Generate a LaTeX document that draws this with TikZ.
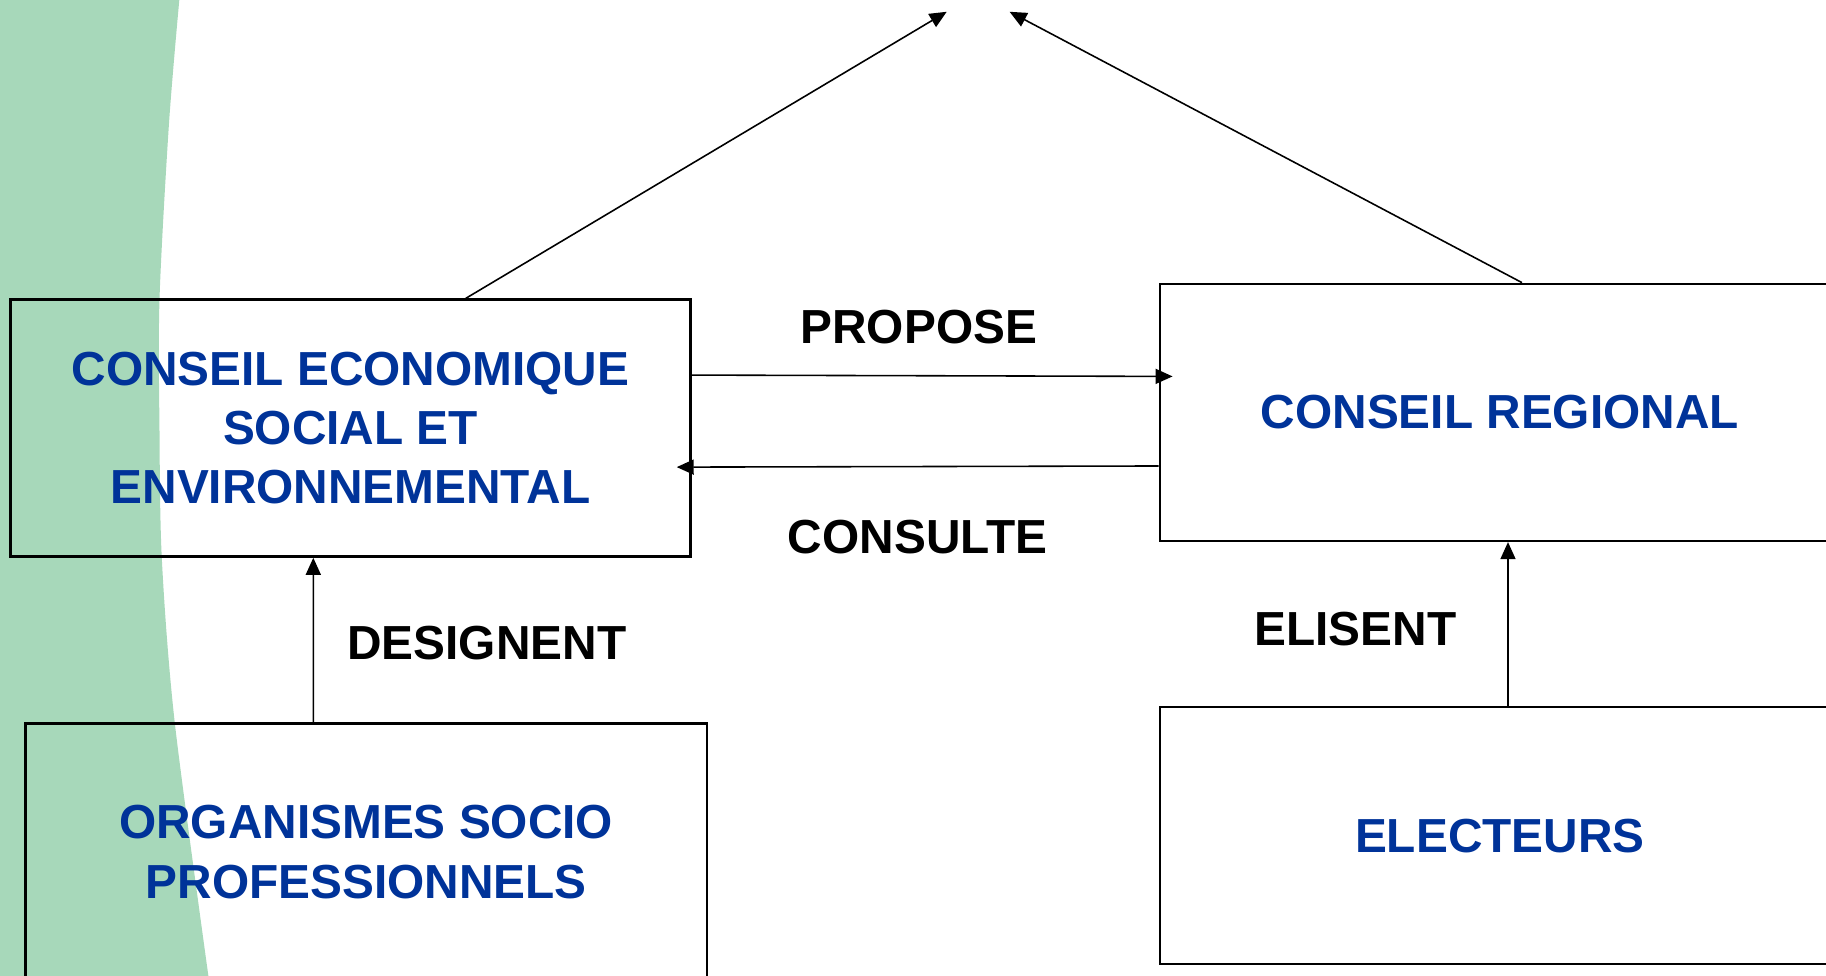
\documentclass[tikz,border=0pt]{standalone}
\usepackage{fontspec}
\setmainfont{Liberation Sans}
\usepackage{xcolor}
\usetikzlibrary{arrows.meta,calc,positioning}
\definecolor{bandgreen}{HTML}{A7D8BA}
\definecolor{boxblue}{HTML}{003399}
\begin{document}
\begin{tikzpicture}
			\tikzstyle{every node}=[font=\fontsize{13.6}{16.9}\selectfont\bfseries]
			\tikzstyle{box}=[draw, line width=0.7pt, minimum width=6.8cm, minimum height=2.57cm, text=boxblue, align=center, inner sep=0pt]
			\tikzstyle{arr}=[line width=0.45pt, -{Triangle[length=1.7mm,width=1.5mm]}]
			\useasboundingbox (0,0) rectangle (18.26,9.76);
			% green band on the left
			\fill [bandgreen] (0,9.76) -- plot [smooth] coordinates {(1.793,9.76) (1.689,8.512) (1.595,6.766) (1.595,5.45) (1.619,4.157) (1.747,2.539) (2.084,0)} -- (0,0) -- cycle;
			\node [box] (cese) at (3.505,5.479) {CONSEIL ECONOMIQUE\\SOCIAL ET\\ENVIRONNEMENTAL};
			\node [box] (cr) at (14.998,5.636) {CONSEIL REGIONAL};
			\node [box, minimum width=6.813cm] (org) at (3.662,1.24) {ORGANISMES SOCIO\\PROFESSIONNELS};
			\node [box] (elec) at (14.998,1.403) {ELECTEURS};
			\coordinate (topl) at (9.467,9.642);
			\coordinate (topr) at (10.096,9.642);
			\draw [arr, shorten >=-1.4mm] ($(cese.east)+(0,0.53)$) -- ($(cr.west)+(0,0.36)$);
			\draw [arr, shorten >=-1.5mm] ($(cr.west)+(0,-0.536)$) -- ($(cese.east)+(0,-0.39)$);
			\draw [arr] ($(org.north)+(-0.529,0)$) -- ($(cese.south)+(-0.372,0)$);
			\draw [arr] ($(elec.north)+(0.082,0)$) -- ($(cr.south)+(0.082,0)$);
			\draw [arr] ($(cese.north)+(1.153,0)$) -- (topl);
			\draw [arr] ($(cr.north)+(0.222,0)$) -- (topr);
			\node (propose) at (9.188,6.486) {PROPOSE};
			\node (consulte) at (9.176,4.39) {CONSULTE};
			\node (designent) at (4.868,3.33) {DESIGNENT};
			\node (elisent) at (13.555,3.47) {ELISENT};
		\end{tikzpicture}
\end{document}
